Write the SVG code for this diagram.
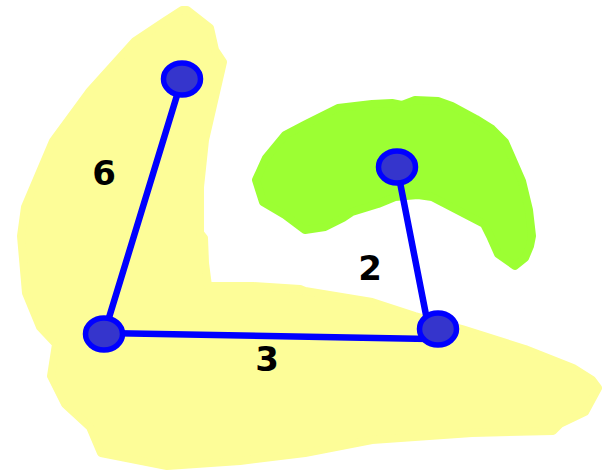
<svg xmlns="http://www.w3.org/2000/svg" width="610" height="472" viewBox="0 0 610 472">
<style>
.node{fill:#3535cc;stroke:#0000ff;stroke-width:5.5}
.edge{stroke:#0000ff;stroke-width:6.5;fill:none;stroke-linecap:round}
.lbl{font-family:"DejaVu Sans",sans-serif;font-weight:bold;font-size:34px;fill:#000;text-anchor:middle}
.blob{stroke-width:8;stroke-linejoin:round}
</style>
<rect width="610" height="472" fill="#fff"/>
<g id="regions">
<path id="yellow" class="blob" fill="#fdfd98" stroke="#fdfd98" d="M182,10 L187,10 L210,28 L215,50 L223,62 L205,140 L200,187 L200,233 L204,238 L205,263 L208,286 L253,286 L300,289 L305,291 L372,302 L415,316 L462,329 L525,349 L573,368 L592,380 L598,388 L585,412 L560,424 L553,431 L472,433 L372,440 L305,453 L240,461 L167,466 L101,453 L90,427 L65,404 L51,376 L56,344 L40,327 L26,293 L21,236 L25,207 L53,141 L89,92 L135,41 L165,21 Z"/>
<path id="green" class="blob" fill="#9cff33" stroke="#9cff33" d="M415,100 L438,101 L452,106 L476,119 L492,129 L505,142 L512,158 L522,181 L529,210 L532,236 L530,246 L525,258 L515,266 L498,254 L490,236 L484,224 L432,197 L418,195 L395,197 L378,204 L352,212 L343,218 L325,227 L305,230 L285,215 L263,202 L256,180 L266,158 L285,135 L306,124 L338,108 L372,104 L392,103 L402,105 Z"/>
</g>
<g id="connectors">
<line class="edge" x1="182" y1="79" x2="104" y2="334"/>
<line class="edge" x1="397" y1="167" x2="428" y2="325"/>
<line class="edge" x1="104" y1="333" x2="430" y2="339"/>
</g>
<g id="node-a"><ellipse class="node" cx="182" cy="79" rx="18.5" ry="16"/></g>
<g id="node-b"><ellipse class="node" cx="397" cy="167" rx="18.5" ry="16"/></g>
<g id="node-c"><ellipse class="node" cx="104" cy="334" rx="18.5" ry="16"/></g>
<g id="node-d"><ellipse class="node" cx="438" cy="329" rx="18.5" ry="16"/></g>
<g id="labels">
<text class="lbl" x="104" y="185">6</text>
<text class="lbl" x="370" y="280">2</text>
<text class="lbl" x="267" y="371">3</text>
</g>
</svg>
